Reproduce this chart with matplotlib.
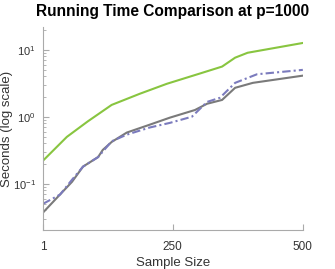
import numpy as np
import matplotlib
matplotlib.use('Agg')
import matplotlib.pyplot as plt

plt.rcParams['font.family'] = ['Liberation Sans', 'DejaVu Sans']
plt.rcParams['mathtext.fontset'] = 'custom'
plt.rcParams['mathtext.rm'] = 'Liberation Sans'

# values (seconds, log scale)
green_n = [1, 47, 87, 133, 187, 239, 302, 345, 370, 394, 500]
green_t = [0.22, 0.5, 0.85, 1.5, 2.2, 3.1, 4.4, 5.6, 7.6, 9.0, 12.6]

gray_n = [1, 57, 78, 107, 116, 133, 162, 206, 245, 293, 316, 345, 370, 404, 500]
gray_t = [0.037, 0.107, 0.18, 0.25, 0.32, 0.42, 0.58, 0.76, 0.97, 1.26, 1.56, 1.78, 2.7, 3.2, 4.1]

blue_n = [1, 34, 57, 78, 107, 133, 162, 206, 245, 287, 316, 341, 370, 412, 500]
blue_t = [0.05, 0.069, 0.115, 0.18, 0.25, 0.43, 0.54, 0.69, 0.81, 1.0, 1.66, 1.92, 3.2, 4.3, 5.0]

xticks = [1, 250, 500]

fig = plt.figure(figsize=(3.35, 2.69), dpi=100)
ax = fig.add_axes([0.128, 0.145, 0.776, 0.755])

ax.plot(green_n, green_t, color='#88c540', lw=1.5)
ax.plot(gray_n, gray_t, color='#7a7a7a', lw=1.5)
ax.plot(blue_n, blue_t, color='#7b7bbd', lw=1.5, ls=(0, (4, 1.5, 1, 1.5)))

ax.set_yscale('log')
ax.set_xlim(1, 500)
ax.set_ylim(10 ** -1.69, 10 ** 1.34)
ax.set_xticks(xticks)
ax.set_xticklabels([str(v) for v in xticks])

for s in ['top', 'right']:
    ax.spines[s].set_visible(False)
for s in ['left', 'bottom']:
    ax.spines[s].set_color('#aaaaaa')
ax.tick_params(which='both', direction='in', colors='#aaaaaa', labelcolor='#333333')
ax.tick_params(which='major', length=4)
ax.tick_params(which='minor', length=2)
ax.tick_params(axis='x', labelsize=8.5, pad=8)
ax.tick_params(axis='y', which='both', labelsize=8, pad=5)

ax.set_xlabel('Sample Size', color='#333333', fontsize=9.5, labelpad=3)
ax.set_ylabel('Seconds (log scale)', color='#333333', fontsize=9.5)
ax.yaxis.set_label_coords(-0.115, 0.5)
ax.set_title('Running Time Comparison at p=1000', fontsize=11.2, fontweight='bold', pad=8)

fig.savefig('out.png', dpi=100)
